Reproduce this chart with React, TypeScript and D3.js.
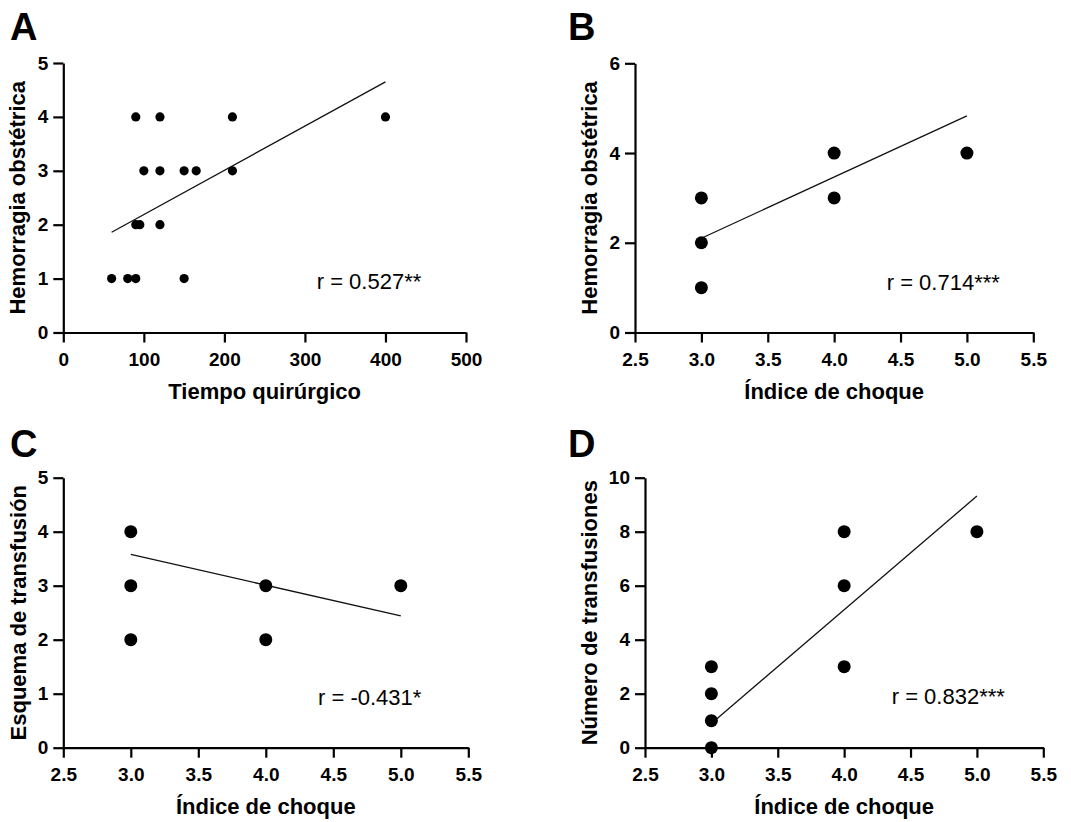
import React, { useEffect, useRef } from "react";
import * as d3 from "d3";

// panel A: tiempo quirúrgico vs hemorragia obstétrica
const tiempoX = [90, 120, 210, 400, 100, 120, 150, 165, 210, 90, 95, 120, 60, 80, 90, 150];
const hemorragiaA = [4, 4, 4, 4, 3, 3, 3, 3, 3, 2, 2, 2, 1, 1, 1, 1];
const fitAX = [60, 400];
const fitAY = [1.86, 4.65];

// panel B: índice de choque vs hemorragia obstétrica
const choqueB = [3, 3, 3, 4, 4, 5];
const hemorragiaB = [3, 2, 1, 4, 3, 4];
const fitBX = [3, 5];
const fitBY = [2.1, 4.83];

// panel C: índice de choque vs esquema de transfusión
const choqueC = [3, 3, 3, 4, 4, 5];
const esquemaC = [4, 3, 2, 3, 2, 3];
const fitCX = [3, 5];
const fitCY = [3.58, 2.44];

// panel D: índice de choque vs número de transfusiones
const choqueD = [3, 3, 3, 3, 4, 4, 4, 5];
const transfD = [3, 2, 1, 0, 8, 6, 3, 8];
const fitDX = [3, 5];
const fitDY = [0.9, 9.32];

const ticksTiempo = [0, 100, 200, 300, 400, 500];
const ticksChoque = [2.5, 3.0, 3.5, 4.0, 4.5, 5.0, 5.5];
const ticks0to5 = [0, 1, 2, 3, 4, 5];
const ticks0to6 = [0, 2, 4, 6];
const ticks0to10 = [0, 2, 4, 6, 8, 10];

const letters = ["A", "B", "C", "D"];
const xLabels = ["Tiempo quirúrgico", "Índice de choque", "Índice de choque", "Índice de choque"];
const yLabels = ["Hemorragia obstétrica", "Hemorragia obstétrica", "Esquema de transfusión", "Número de transfusiones"];
const rLabels = ["r = 0.527**", "r = 0.714***", "r = -0.431*", "r = 0.832***"];

const FONT = "Arial, 'Liberation Sans', Helvetica, sans-serif";

const panels = [
  {
    xs: tiempoX, ys: hemorragiaA, fx: fitAX, fy: fitAY,
    xd: [0, 500], yd: [0, 5], xt: ticksTiempo, yt: ticks0to5, xfmt: d3.format("d"),
    xr: [63.3, 466], yr: [332.5, 63],
    r: 4.6, letter: [10, 40], ylab: 25, rpos: [316.7, 289],
  },
  {
    xs: choqueB, ys: hemorragiaB, fx: fitBX, fy: fitBY,
    xd: [2.5, 5.5], yd: [0, 6], xt: ticksChoque, yt: ticks0to6, xfmt: d3.format(".1f"),
    xr: [635, 1033.3], yr: [332.5, 63.3],
    r: 6.5, letter: [568, 40], ylab: 597, rpos: [886.7, 289.5],
  },
  {
    xs: choqueC, ys: esquemaC, fx: fitCX, fy: fitCY,
    xd: [2.5, 5.5], yd: [0, 5], xt: ticksChoque, yt: ticks0to5, xfmt: d3.format(".1f"),
    xr: [63.3, 468.3], yr: [747.7, 477.7],
    r: 6.5, letter: [10, 457], ylab: 26, rpos: [318, 705],
  },
  {
    xs: choqueD, ys: transfD, fx: fitDX, fy: fitDY,
    xd: [2.5, 5.5], yd: [0, 10], xt: ticksChoque, yt: ticks0to10, xfmt: d3.format(".1f"),
    xr: [645, 1043.3], yr: [747.7, 477.7],
    r: 6.5, letter: [568, 457], ylab: 597, rpos: [891.7, 704],
  },
];

export default function App() {
  const ref = useRef<SVGSVGElement>(null);

  useEffect(() => {
    const svg = d3.select(ref.current);
    svg.selectAll("*").remove();

    panels.forEach((p, i) => {
      const x = d3.scaleLinear().domain(p.xd).range(p.xr);
      const y = d3.scaleLinear().domain(p.yd).range(p.yr);
      const g = svg.append("g");

      // axes
      const xAxis = g.append("g")
        .attr("transform", `translate(0,${p.yr[0]})`)
        .call(d3.axisBottom(x).tickValues(p.xt).tickFormat(p.xfmt as any).tickSize(10).tickSizeOuter(0).tickPadding(10));
      const yAxis = g.append("g")
        .attr("transform", `translate(${p.xr[0]},0)`)
        .call(d3.axisLeft(y).tickValues(p.yt).tickFormat(d3.format("d") as any).tickSize(10).tickSizeOuter(0).tickPadding(5));

      [xAxis, yAxis].forEach((a) => {
        a.selectAll("path, line").attr("stroke", "#000").attr("stroke-width", 2.2);
        a.selectAll("text")
          .attr("fill", "#000")
          .style("font-family", FONT)
          .style("font-size", "19px")
          .style("font-weight", "bold");
      });

      // fit line
      const line = d3.line<number>()
        .x((_, k) => x(p.fx[k]))
        .y((d) => y(d));
      g.append("path")
        .attr("d", line(p.fy))
        .attr("fill", "none")
        .attr("stroke", "#111")
        .attr("stroke-width", 1.3);

      // points
      g.selectAll("circle.pt")
        .data(p.xs.map((v, k) => [v, p.ys[k]]))
        .join("circle")
        .attr("class", "pt")
        .attr("cx", (d) => x(d[0]))
        .attr("cy", (d) => y(d[1]))
        .attr("r", p.r)
        .attr("fill", "#000");

      // axis labels
      g.append("text")
        .attr("x", (p.xr[0] + p.xr[1]) / 2)
        .attr("y", p.yr[0] + 66)
        .attr("text-anchor", "middle")
        .style("font-family", FONT)
        .style("font-size", "22px")
        .style("font-weight", "bold")
        .text(xLabels[i]);

      g.append("text")
        .attr("transform", `translate(${p.ylab},${(p.yr[0] + p.yr[1]) / 2}) rotate(-90)`)
        .attr("text-anchor", "middle")
        .style("font-family", FONT)
        .style("font-size", "22px")
        .style("font-weight", "bold")
        .text(yLabels[i]);

      // panel letter
      g.append("text")
        .attr("x", p.letter[0])
        .attr("y", p.letter[1])
        .style("font-family", FONT)
        .style("font-size", "38px")
        .style("font-weight", "bold")
        .text(letters[i]);

      // correlation
      g.append("text")
        .attr("x", p.rpos[0])
        .attr("y", p.rpos[1])
        .style("font-family", FONT)
        .style("font-size", "22px")
        .text(rLabels[i]);
    });
  }, []);

  return (
    <svg
      ref={ref}
      width={1071}
      height={822}
      style={{ position: "absolute", left: 0, top: 0, background: "#fff" }}
    />
  );
}
